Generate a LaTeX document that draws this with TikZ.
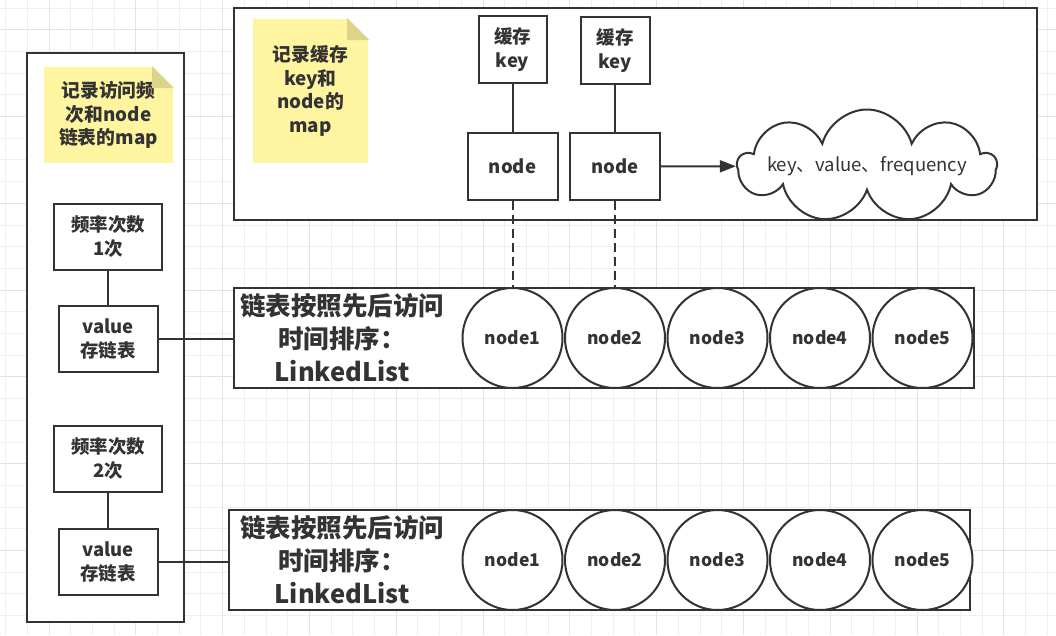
\documentclass[tikz,border=0pt]{standalone}
\usepackage{fontspec}
\setmainfont{Noto Sans CJK SC}
\usepackage{tikz}
\usetikzlibrary{positioning, shapes.symbols, arrows.meta}

\definecolor{ink}{HTML}{333333}
\definecolor{gridline}{HTML}{EFEFEF}
\definecolor{gridmajor}{HTML}{E3E3E3}
\definecolor{notefill}{HTML}{FFF4A0}
\definecolor{notefold}{HTML}{DDD48C}

\begin{document}
\begin{tikzpicture}[x=1pt, y=-1pt, color=ink, line width=2pt,
  frame/.style={rectangle, draw, fill=white, line width=2.2pt, inner sep=0pt},
  note/.style={rectangle, fill=notefill, align=center, inner sep=0pt, font=\bfseries\fontsize{18.8}{23.5}\selectfont},
  cellbox/.style={rectangle, draw, fill=white, align=center, inner sep=0pt, font=\bfseries\fontsize{18.5}{24}\selectfont},
  lnode/.style={circle, draw, fill=white, minimum size=100pt, inner sep=0pt, font=\bfseries\fontsize{17.5}{20}\selectfont},
  listlabel/.style={align=center, inner sep=0pt, font=\bfseries\fontsize{25.5}{33}\selectfont}]
        % canvas and grid
        \useasboundingbox (0,0) rectangle (1056,635);
        \fill[white] (0,0) rectangle (1056,635);
        \foreach \i in {0,...,48} {\draw[gridline, line width=0.7pt] ({5.5+21.7*\i},0) -- ({5.5+21.7*\i},635);}
        \foreach \j in {0,...,29} {\draw[gridline, line width=0.7pt] (0,{7.9+21.7*\j}) -- (1056,{7.9+21.7*\j});}
        \foreach \i in {0,...,11} {\draw[gridmajor, line width=0.7pt] ({48.9+86.8*\i},0) -- ({48.9+86.8*\i},635);}
        \foreach \j in {0,...,7} {\draw[gridmajor, line width=0.7pt] (0,{29.6+86.8*\j}) -- (1056,{29.6+86.8*\j});}

        % frames
        \node[frame, minimum width=157pt, minimum height=569pt] (freqmap) at (105.5,337.5) {};
        \node[frame, minimum width=803pt, minimum height=212pt] (keymap) at (635.5,114) {};
        \node[frame, minimum width=740pt, minimum height=100pt] (list1) at (604,338) {};
        \node[frame, minimum width=741pt, minimum height=100pt] (list2) at (599.5,560) {};

        % notes
        \node[note, minimum width=129pt, minimum height=96pt] (freqnote) at (108.5,115) {记录访问频\\次和node\\链表的map};
        \node[note, minimum width=115pt, minimum height=144pt] (keynote) at (310.5,91) {记录缓存\\key和\\node的\\map};
        \foreach \n in {freqnote, keynote} {
            \fill[white] ([xshift=-22pt]\n.north east) -- (\n.north east) -- ([yshift=-22pt]\n.north east) -- cycle;
            \fill[notefold] ([xshift=-22pt]\n.north east) -- ([xshift=-22pt, yshift=-22pt]\n.north east) -- ([yshift=-22pt]\n.north east) -- cycle;
        }

        % frequency buckets
        \node[cellbox, minimum width=108pt, minimum height=66pt] (freq1) at (108,237) {频率次数\\1次};
        \node[cellbox, minimum width=99pt, minimum height=66pt] (val1) [below=34pt of freq1] {value\\存链表};
        \node[cellbox, minimum width=108pt, minimum height=66pt] (freq2) at (108,459) {频率次数\\2次};
        \node[cellbox, minimum width=99pt, minimum height=66pt] (val2) [below=35pt of freq2] {value\\存链表};
        \draw (freq1) -- (val1);
        \draw (freq2) -- (val2);
        \draw (val1.east) -- (val1.east -| list1.west);
        \draw (val2.east) -- (val2.east -| list2.west);

        % linked lists
        \node[listlabel] (lab1) at (342,338) {链表按照先后访问\\时间排序：\\LinkedList};
        \node[listlabel] (lab2) at (342,560) {链表按照先后访问\\时间排序：\\LinkedList};
        \foreach \i in {1,...,5} {
            \node[lnode] (a\i) at ({410+102.5*\i},338) {node\i};
            \node[lnode] (b\i) at ({410+102.5*\i},560) {node\i};
        }

        % key map
        \node[cellbox, minimum width=90pt, minimum height=67pt] (kn1) at (a1 |- 0,166.5) {node};
        \node[cellbox, minimum width=90pt, minimum height=67pt] (kn2) at (a2 |- 0,166.5) {node};
        \node[cellbox, minimum width=68pt, minimum height=67pt] (key1) [above=48pt of kn1] {缓存\\key};
        \node[cellbox, minimum width=69pt, minimum height=67pt] (key2) [above=47pt of kn2] {缓存\\key};
        \node[cloud, draw, fill=white, cloud puffs=9, cloud ignores aspect, minimum width=258pt, minimum height=113pt,
              inner sep=0pt, label={[font=\fontsize{18.5}{20}\selectfont]center:key、value、frequency}] (entry) at (867,166) {};

        \draw (key1) -- (kn1);
        \draw (key2) -- (kn2);
        \draw[dash pattern=on 9pt off 5pt] (kn1) -- (a1);
        \draw[dash pattern=on 9pt off 5pt] (kn2) -- (a2);
        \draw[-{Triangle[length=16pt, width=12pt]}] (kn2) -- (entry);
\end{tikzpicture}
\end{document}
